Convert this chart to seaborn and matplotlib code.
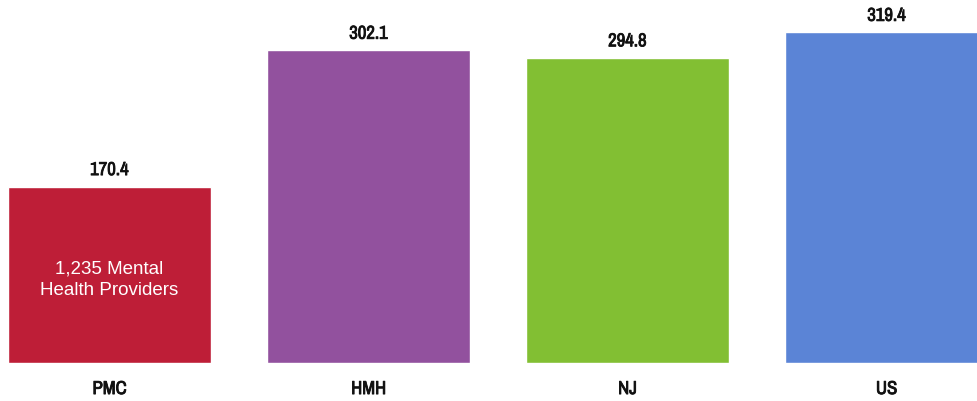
import matplotlib
matplotlib.use("Agg")
import matplotlib.pyplot as plt
import matplotlib.patheffects as pe
from matplotlib import font_manager
import seaborn as sns
import pandas as pd

# data
groups = ["PMC", "HMH", "NJ", "US"]
rates = [170.4, 302.1, 294.8, 319.4]
colors = ["#BE1E37", "#92519E", "#82BF33", "#5B84D6"]
inner_note = "1,235 Mental\nHealth Providers"

df = pd.DataFrame({"group": groups, "rate": rates})

sns.set_style("white")

# look for a condensed face, fall back to Liberation Sans
names = sorted({f.name for f in font_manager.fontManager.ttflist})
condensed = [n for n in names if "Narrow" in n or "Condensed" in n]
narrow = [condensed[0] if condensed else "Liberation Sans", "DejaVu Sans"]
label_size = 13.5 if condensed else 10.5
# fake a heavier weight, the narrow face has no bold
thick = [pe.withStroke(linewidth=0.6, foreground="#111111")]

fig = plt.figure(figsize=(9.78, 4.02), dpi=100)
ax = fig.add_axes([0, 38 / 402, 1, 364 / 402])

sns.barplot(data=df, x="group", y="rate", hue="group", palette=colors,
            width=0.784, legend=False, ax=ax, saturation=1)

ax.set_xlim(-0.4228, 3.353)
ax.set_ylim(0, 351.7)

# value labels above bars
for i, v in enumerate(rates):
    ax.text(i, v + 16, f"{v:.1f}", ha="center", va="center",
            fontsize=label_size, fontweight="bold", family=narrow, color="#111111",
            path_effects=thick)

# note inside the first bar
ax.text(0, 81, inner_note, ha="center", va="center", fontsize=13.5,
        color="white", family=["Liberation Sans", "DejaVu Sans"], linespacing=1.35)

ax.set_xlabel("")
ax.set_ylabel("")
ax.set_yticks([])
ax.set_xticks(range(len(groups)))
ax.set_xticklabels(groups, fontsize=label_size, fontweight="bold", family=narrow, color="#111111",
                   path_effects=thick)
ax.tick_params(axis="x", length=0, pad=13)
sns.despine(left=True, bottom=True)

plt.savefig("out.png", dpi=100)
